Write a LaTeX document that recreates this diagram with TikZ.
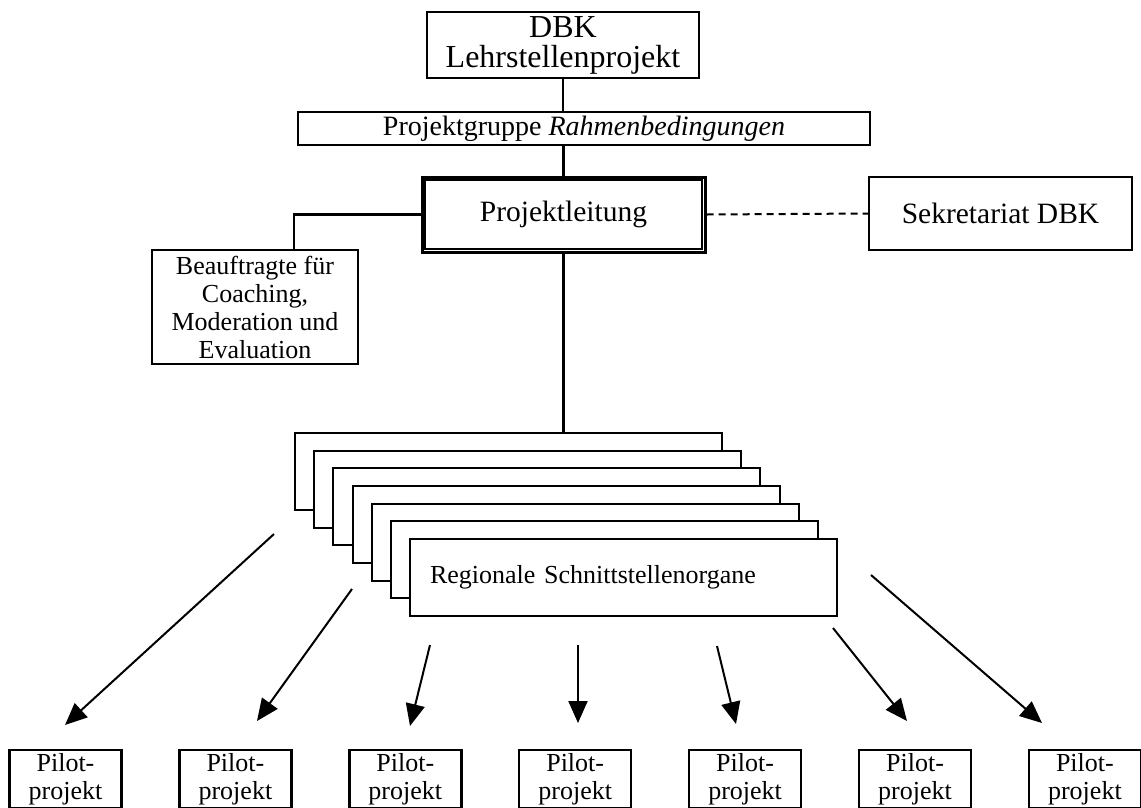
\documentclass[tikz,border=0pt]{standalone}
\usepackage{fontspec}
\setmainfont{Liberation Serif}
\usetikzlibrary{arrows.meta}
\newcommand\fbig{\fontsize{29.5}{30}\selectfont}
\newcommand\fdbk{\fontsize{32}{30}\selectfont}
\newcommand\fpg{\fontsize{28}{30}\selectfont}
\newcommand\fsmall{\fontsize{26}{28}\selectfont}
\begin{document}
\begin{tikzpicture}[x=1pt,y=-1pt,
  box/.style={draw, line width=2.4pt, inner sep=0pt, align=center, font=\fbig, fill=white},
  smallbox/.style={box, font=\fsmall},
  stackbox/.style={draw, line width=2pt, fill=white, inner sep=0pt, minimum width=427pt, minimum height=77pt, anchor=north west},
  pilot/.style={draw, line width=2.4pt, inner xsep=0pt, inner ysep=3pt, minimum width=112pt, align=center, font=\fsmall, anchor=north},
  conn/.style={line width=2.6pt},
  dconn/.style={line width=2pt, dash pattern=on 7pt off 5pt},
  arr/.style={line width=2pt, -{Triangle[length=22pt,width=19pt]}}]
\useasboundingbox (0,0) rectangle (1141,807);

% top boxes
\node[box, font=\fdbk, minimum width=272pt, minimum height=66pt] (dbk) at (563,45) {DBK\\Lehrstellenprojekt};
\node[box, font=\fpg, minimum width=572pt, minimum height=33pt] (pg) at (584,128.5) {Projektgruppe \textit{Rahmenbedingungen}};
\node[box, line width=3pt, minimum width=283pt, minimum height=75pt] (pl) at (563.5,214.5) {Projektleitung};
\draw[line width=1.4pt] ([shift={(4.5,4.5)}]pl.north west) rectangle ([shift={(-4.5,-4.5)}]pl.south east);
\node[box, minimum width=263pt, minimum height=73pt] (sk) at (1000.5,213.5) {Sekretariat DBK};
\node[smallbox, minimum width=206pt, minimum height=114pt] (bf) at (255,307) {Beauftragte für\\Coaching,\\Moderation und\\Evaluation};

% connectors
\draw[conn] (dbk.south) -- (dbk.south |- pg.north);
\draw[conn] (pl.north |- pg.south) -- (pl.north);
\draw[conn] (pl.west) -| ([xshift=39pt]bf.north);
\draw[dconn] (pl.east) -- (sk.west);

% stacked boxes
\foreach \i in {0,...,5}
  \node[stackbox] (s\i) at ({294+19.17*\i},{432+17.67*\i}) {};
\node[stackbox, text width=387pt, inner xsep=20pt, align=left, font=\fsmall] (s6) at (409,538) {Regionale Schnittstellenorgane};

\draw[conn] (pl.south) -- (pl.south |- s0.north);

% pilot boxes
\foreach \i in {1,...,7}
  \node[pilot] (p\i) at ({65.5+169.9*(\i-1)},749) {Pilot-\\projekt};

% arrows
\coordinate (a1) at (274,534); \coordinate (b1) at (65,725);
\coordinate (a2) at (352,589); \coordinate (b2) at (257,721);
\coordinate (a3) at (430,645); \coordinate (b3) at (410,726);
\coordinate (a4) at (578,645); \coordinate (b4) at (578,723);
\coordinate (a5) at (717,646); \coordinate (b5) at (736,724);
\coordinate (a6) at (833,628); \coordinate (b6) at (907,721);
\coordinate (a7) at (871,575); \coordinate (b7) at (1042,723);
\foreach \i in {1,...,7}
  \draw[arr] (a\i) -- (b\i);
\end{tikzpicture}
\end{document}
